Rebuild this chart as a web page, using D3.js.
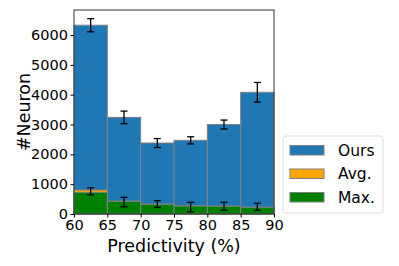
<!DOCTYPE html>
<html>
<head>
<meta charset="utf-8">
<script src="https://cdn.jsdelivr.net/npm/d3@7"></script>
<style>
  body { margin: 0; background: #fff; }
  text { font-family: "DejaVu Sans", sans-serif; fill: #000; }
</style>
</head>
<body>
<div class="chart"></div>
<script>
var width = 399,
  height = 266,
  margin = {left: 74, right: 125, top: 10, bottom: 52};

// bin edges (predictivity %)
var binStarts = [60, 65, 70, 75, 80, 85];
var binWidth = 5;
var xTicks = [60, 65, 70, 75, 80, 85, 90];
var yTicks = [0, 1000, 2000, 3000, 4000, 5000, 6000];

var oursValues = [6330, 3240, 2380, 2470, 3000, 4080];
var oursErr = [220, 210, 150, 120, 150, 330];
var avgValues = [805, 430, 330, 272, 262, 228];
var maxValues = [727, 425, 325, 268, 258, 224];
var maxCenter = [760, 400, 335, 230, 258, 240];
var maxErr = [120, 160, 110, 160, 135, 120];

var seriesNames = ['Ours', 'Avg.', 'Max.'];
var colors = ['#1f77b4', '#ffa500', '#008000'];

var svg = d3.select('.chart')
  .append('svg')
  .attr('width', width)
  .attr('height', height);

var xScale = d3.scaleLinear()
  .domain([60, 90])
  .range([margin.left, width - margin.right]);

var yScale = d3.scaleLinear()
  .domain([0, 6840])
  .range([height - margin.bottom, margin.top]);

// bars: Ours, then Avg, then Max drawn on top
var layers = [oursValues, avgValues, maxValues];
layers.forEach(function (vals, k) {
  svg.append('g').selectAll('rect')
    .data(vals)
    .enter()
    .append('rect')
    .attr('x', function (d, i) { return xScale(binStarts[i]); })
    .attr('width', function (d, i) { return xScale(binStarts[i] + binWidth) - xScale(binStarts[i]); })
    .attr('y', function (d) { return yScale(d); })
    .attr('height', function (d) { return yScale(0) - yScale(d); })
    .attr('fill', colors[k])
    .attr('stroke', '#808080')
    .attr('stroke-width', 1);
});

// error bars
function errorBars(centers, errs) {
  var g = svg.append('g').attr('stroke', '#000').attr('stroke-width', 1.3);
  centers.forEach(function (c, i) {
    var cx = xScale(binStarts[i] + binWidth / 2);
    var y1 = yScale(c + errs[i]), y2 = yScale(c - errs[i]);
    g.append('line').attr('x1', cx).attr('x2', cx).attr('y1', y1).attr('y2', y2);
    g.append('line').attr('x1', cx - 3.5).attr('x2', cx + 3.5).attr('y1', y1).attr('y2', y1);
    g.append('line').attr('x1', cx - 3.5).attr('x2', cx + 3.5).attr('y1', y2).attr('y2', y2);
  });
}
errorBars(oursValues, oursErr);
errorBars(maxCenter, maxErr);

// frame
svg.append('rect')
  .attr('x', margin.left)
  .attr('y', margin.top)
  .attr('width', width - margin.right - margin.left)
  .attr('height', height - margin.bottom - margin.top)
  .attr('fill', 'none')
  .attr('stroke', '#333')
  .attr('stroke-width', 1);

//Define axes
var xAxis = d3.axisBottom(xScale)
  .tickValues(xTicks)
  .tickSize(3.5)
  .tickPadding(2)
  .tickFormat(d3.format('d'));

var yAxis = d3.axisLeft(yScale)
  .tickValues(yTicks)
  .tickSize(3.5)
  .tickPadding(2.5)
  .tickFormat(d3.format('d'));

var gx = svg.append('g')
  .attr('transform', 'translate(0,' + (height - margin.bottom) + ')')
  .call(xAxis);
var gy = svg.append('g')
  .attr('transform', 'translate(' + margin.left + ',0)')
  .call(yAxis);

[gx, gy].forEach(function (g) {
  g.select('.domain').remove();
  g.selectAll('.tick line').attr('stroke', '#000');
  g.selectAll('.tick text').style('font-size', '14.5px').style('font-family', 'DejaVu Sans');
});

// axis labels
svg.append('text')
  .attr('x', (margin.left + width - margin.right) / 2)
  .attr('y', 252)
  .attr('text-anchor', 'middle')
  .style('font-size', '17.5px')
  .text('Predictivity (%)');

svg.append('text')
  .attr('transform', 'translate(30,' + ((margin.top + height - margin.bottom) / 2) + ') rotate(-90)')
  .attr('text-anchor', 'middle')
  .style('font-size', '17.5px')
  .text('#Neuron');

// legend
var legend = svg.append('g').attr('transform', 'translate(283,136)');
legend.append('rect')
  .attr('width', 100).attr('height', 77)
  .attr('rx', 3)
  .attr('fill', '#fff')
  .attr('stroke', '#ddd');

seriesNames.forEach(function (name, i) {
  var yy = 14 + i * 23.5;
  legend.append('rect')
    .attr('x', 7).attr('y', yy - 4.5)
    .attr('width', 34).attr('height', 9.5)
    .attr('fill', colors[i])
    .attr('stroke', '#808080');
  legend.append('text')
    .attr('x', 55).attr('y', yy + 5.5)
    .style('font-size', '15.5px')
    .text(name);
});
</script>
</body>
</html>
